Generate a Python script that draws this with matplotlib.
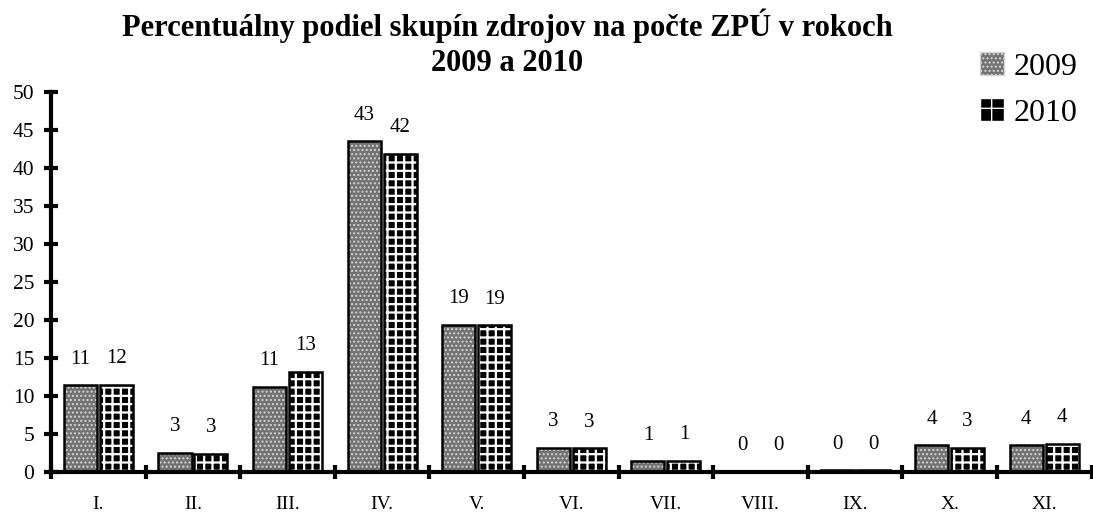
import numpy as np
import matplotlib as mpl
import matplotlib.pyplot as plt
from matplotlib.patches import Patch

categories = ['I.', 'II.', 'III.', 'IV.', 'V.', 'VI.', 'VII.', 'VIII.', 'IX.', 'X.', 'XI.']
v2009 = [11.4, 2.5, 11.2, 43.5, 19.4, 3.2, 1.4, 0.1, 0.2, 3.5, 3.5]
v2010 = [11.5, 2.4, 13.2, 41.9, 19.3, 3.1, 1.5, 0.1, 0.2, 3.2, 3.7]
lab2009 = ['11', '3', '11', '43', '19', '3', '1', '0', '0', '4', '4']
lab2010 = ['12', '3', '13', '42', '19', '3', '1', '0', '0', '3', '4']

plt.rcParams['font.family'] = 'Liberation Serif'

fig = plt.figure(figsize=(10.93, 5.14), dpi=100)
ax = fig.add_axes([0.0467, 0.0817, 0.952, 0.7393])

x = np.arange(len(categories))
w = 0.35
off = 0.19

# 2009: gray fine dotted pattern
with mpl.rc_context({'hatch.linewidth': 1.0}):
    ax.bar(x - off, v2009, w, color='#727272', edgecolor='#d4d4d4', hatch='....', linewidth=0)
ax.bar(x - off, v2009, w, fill=False, edgecolor='black', linewidth=1.8)
# 2010: black with white grid
with mpl.rc_context({'hatch.linewidth': 1.6}):
    ax.bar(x + off, v2010, w, color='black', edgecolor='white', hatch='++', linewidth=0)
ax.bar(x + off, v2010, w, fill=False, edgecolor='black', linewidth=1.8)

for xi, v, s in zip(x - off, v2009, lab2009):
    ax.text(xi, v + 2.2, s, ha='center', va='bottom', fontsize=15)
for xi, v, s in zip(x + off, v2010, lab2010):
    ax.text(xi, v + 2.2, s, ha='center', va='bottom', fontsize=15)

ax.set_xlim(-0.5, 10.5)
ax.set_ylim(0, 50)
ax.set_yticks(np.arange(0, 51, 5))
ax.set_xticks(np.arange(-0.5, 10.6, 1))
ax.set_xticklabels([])
ax.set_xticks(x, minor=True)
ax.set_xticklabels(categories, minor=True, fontsize=14)
ax.tick_params(axis='x', which='minor', length=0, pad=17)
ax.tick_params(axis='x', which='major', direction='inout', length=10, width=3)
ax.tick_params(axis='y', direction='inout', length=10, width=3, labelsize=15.5, pad=7)
for s in ['top', 'right']:
    ax.spines[s].set_visible(False)
for s in ['left', 'bottom']:
    ax.spines[s].set_linewidth(3)

fig.text(0.464, 0.95, 'Percentuálny podiel skupín zdrojov na počte ZPÚ v rokoch',
         ha='center', va='center', fontsize=22, fontweight='bold')
fig.text(0.464, 0.877, '2009 a 2010', ha='center', va='center', fontsize=22, fontweight='bold')

with mpl.rc_context({'hatch.linewidth': 1.0}):
    h1 = Patch(facecolor='#727272', edgecolor='#d4d4d4', hatch='....')
with mpl.rc_context({'hatch.linewidth': 2.0}):
    h2 = Patch(facecolor='black', edgecolor='white', hatch='+')
fig.legend([h1, h2], ['2009', '2010'], loc='upper right', bbox_to_anchor=(1.012, 0.955),
           frameon=False, fontsize=23, handlelength=0.75, handleheight=0.75,
           handletextpad=0.3, labelspacing=0.5)

fig.savefig('out.png', dpi=100)
